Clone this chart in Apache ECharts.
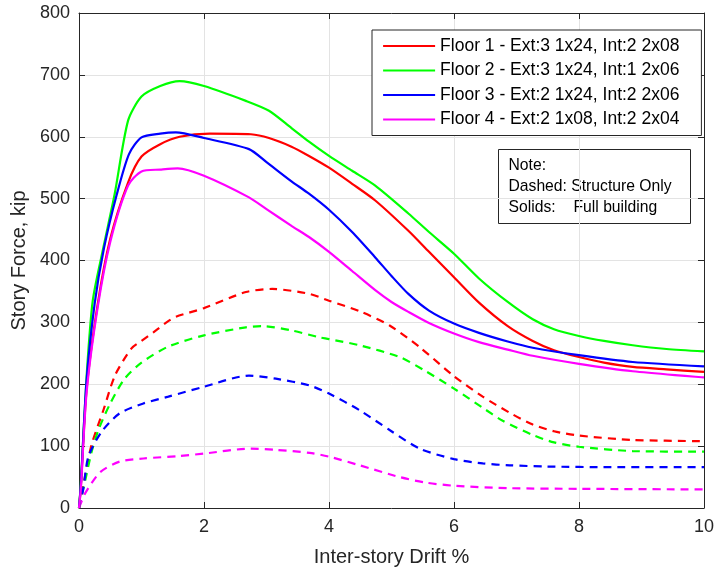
<!DOCTYPE html>
<html>
<head>
<meta charset="utf-8">
<script src="https://cdn.jsdelivr.net/npm/echarts@6/dist/echarts.min.js"></script>
<style>html,body{margin:0;padding:0;background:#fff;}#c{width:717px;height:573px;}</style>
</head>
<body>
<div id="c"></div>
<script>
// ---- Data ----
const seriesNames = [
  'Floor 1 - Ext:3 1x24, Int:2 2x08',
  'Floor 2 - Ext:3 1x24, Int:1 2x06',
  'Floor 3 - Ext:2 1x24, Int:2 2x06',
  'Floor 4 - Ext:2 1x08, Int:2 2x04'
];
const colors = ['#ff0000', '#00ff00', '#0000ff', '#ff00ff'];

// Solid: full building
const f1FullX = [0, 0.03, 0.12, 0.3, 0.5, 0.785, 1.0, 1.3, 1.61, 2.09, 2.75, 3.04, 3.4, 3.68, 4.0, 4.37, 4.74, 5.27, 5.6, 6.0, 6.4, 6.86, 7.26, 7.6, 8.0, 8.4, 8.86, 9.4, 10];
const f1FullY = [0, 35, 190, 330, 435, 526, 568, 588, 600, 605, 604, 598, 584, 569, 550, 524, 497, 448, 414, 373, 332, 294, 270, 255, 244, 235, 228, 224, 220];

const f2FullX = [0, 0.03, 0.12, 0.22, 0.39, 0.57, 0.785, 1.0, 1.3, 1.61, 2.0, 2.67, 3.04, 3.4, 3.68, 4.0, 4.37, 4.74, 5.27, 5.6, 6.0, 6.4, 6.86, 7.26, 7.6, 8.0, 8.4, 8.86, 9.4, 10];
const f2FullY = [0, 40, 210, 335, 421, 507, 626, 665, 682, 690, 682, 658, 642, 614, 592, 569, 545, 521, 476, 446, 411, 371, 333, 305, 289, 278, 270, 263, 257, 253];

const f3FullX = [0, 0.03, 0.12, 0.25, 0.4, 0.6, 0.8, 1.0, 1.3, 1.55, 2.0, 2.72, 3.0, 3.4, 3.68, 4.0, 4.37, 4.74, 5.0, 5.27, 5.6, 6.0, 6.4, 6.86, 7.26, 8.0, 8.86, 10];
const f3FullY = [0, 38, 205, 330, 420, 505, 572, 599, 605, 607, 598, 580, 559, 528, 508, 482, 446, 405, 375, 346, 319, 298, 283, 269, 259, 247, 236, 229];

const f4FullX = [0, 0.03, 0.12, 0.3, 0.5, 0.785, 1.0, 1.3, 1.58, 2.0, 2.72, 3.0, 3.4, 3.68, 4.0, 4.37, 4.74, 5.0, 5.27, 5.6, 6.0, 6.4, 6.86, 7.26, 8.0, 8.86, 10];
const f4FullY = [0, 32, 185, 325, 430, 521, 544, 547, 549, 537, 502, 483, 456, 438, 414, 383, 352, 333, 317, 299, 282, 268, 256, 246, 233, 221, 211];

// Dashed: structure only
const f1StructX = [0, 0.1, 0.2, 0.39, 0.575, 0.84, 1.0, 1.19, 1.4, 1.55, 2.0, 2.67, 3.09, 3.69, 4.0, 4.49, 4.97, 5.45, 6.0, 6.46, 6.89, 7.26, 7.6, 8.0, 8.86, 10];
const f1StructY = [0, 53, 102, 158, 214, 258, 270, 284, 300, 309, 323, 349, 354, 346, 335, 318, 295, 260, 213, 180, 154, 135, 124, 117, 110, 108];

const f2StructX = [0, 0.1, 0.2, 0.31, 0.5, 0.73, 1.0, 1.43, 2.0, 2.67, 2.94, 3.4, 3.84, 4.0, 4.49, 5.13, 5.55, 6.0, 6.46, 6.78, 7.26, 7.6, 8.0, 8.86, 10];
const f2StructY = [0, 45, 90, 126, 169, 209, 235, 261, 279, 292, 294, 287, 276, 273, 263, 244, 221, 193, 162, 141, 118, 106, 99, 92, 91];

const f3StructX = [0, 0.07, 0.15, 0.36, 0.65, 1.03, 1.43, 2.0, 2.72, 3.15, 3.69, 4.0, 4.49, 4.97, 5.45, 6.0, 6.46, 6.89, 7.5, 8.5, 10];
const f3StructY = [0, 32, 83, 123, 153, 169, 180, 196, 214, 209, 198, 185, 158, 126, 96, 79, 72, 69, 67, 66, 66];

const f4StructX = [0, 0.1, 0.34, 0.65, 1.03, 1.61, 2.0, 2.75, 3.15, 3.69, 4.0, 4.49, 5.13, 5.55, 6.0, 6.89, 8.0, 10];
const f4StructY = [0, 24, 58, 75, 80, 84, 88, 96, 94, 89, 83, 69, 50, 41, 36, 32, 31, 30];

const xTicks = [0, 2, 4, 6, 8, 10];
const yTicks = [0, 100, 200, 300, 400, 500, 600, 700, 800];

// ---- Build ----
function zip(xs, ys) { return xs.map((x, i) => [x, ys[i]]); }
const full = [[f1FullX, f1FullY], [f2FullX, f2FullY], [f3FullX, f3FullY], [f4FullX, f4FullY]];
const struct = [[f1StructX, f1StructY], [f2StructX, f2StructY], [f3StructX, f3StructY], [f4StructX, f4StructY]];

const FONT = 'Liberation Sans, Arial, Helvetica, sans-serif';
const series = [];
struct.forEach((d, i) => {
  series.push({
    name: seriesNames[i] + ' (structure)',
    type: 'line', symbol: 'none', smooth: 0.25,
    data: zip(d[0], d[1]),
    lineStyle: { color: colors[i], width: 2.2, type: [8, 6] },
    itemStyle: { color: colors[i] },
    z: 2
  });
});
full.forEach((d, i) => {
  series.push({
    name: seriesNames[i],
    type: 'line', symbol: 'none', smooth: 0.25,
    data: zip(d[0], d[1]),
    lineStyle: { color: colors[i], width: 2.2 },
    itemStyle: { color: colors[i] },
    z: 3
  });
});

const axisColor = '#262626';
const chart = echarts.init(document.getElementById('c'), null, { renderer: 'canvas' });
chart.setOption({
  animation: false,
  backgroundColor: '#ffffff',
  textStyle: { fontFamily: FONT },
  grid: { left: 79, right: 12, top: 13, bottom: 65, containLabel: false },
  legend: {
    data: seriesNames,
    orient: 'vertical',
    left: 372, top: 30,
    padding: [7, 22, 7, 10],
    itemWidth: 52, itemHeight: 14, itemGap: 6.5,
    borderColor: axisColor, borderWidth: 1,
    backgroundColor: '#ffffff',
    itemStyle: { opacity: 0 },
    lineStyle: { width: 2.2 },
    textStyle: { fontSize: 17.5, color: '#000', fontFamily: FONT }
  },
  xAxis: [{
    type: 'value', min: 0, max: 10, interval: 2,
    name: 'Inter-story Drift %', nameLocation: 'middle', nameGap: 39,
    nameTextStyle: { fontSize: 20, color: axisColor, fontFamily: FONT },
    axisLine: { show: true, onZero: false, lineStyle: { color: axisColor, width: 1 } },
    axisTick: { show: true, inside: true, length: 6, lineStyle: { color: axisColor } },
    axisLabel: { fontSize: 18, color: axisColor, margin: 10, fontFamily: FONT },
    splitLine: { show: true, lineStyle: { color: '#e3e3e3', width: 1 } }
  }, {
    type: 'value', min: 0, max: 10, interval: 2, position: 'top',
    axisLine: { show: true, onZero: false, lineStyle: { color: axisColor, width: 1 } },
    axisTick: { show: true, inside: true, length: 6, lineStyle: { color: axisColor } },
    axisLabel: { show: false }, splitLine: { show: false }
  }],
  yAxis: [{
    type: 'value', min: 0, max: 800, interval: 100,
    name: 'Story Force, kip', nameLocation: 'middle', nameGap: 41, nameRotate: 90,
    nameTextStyle: { fontSize: 20, color: axisColor, fontFamily: FONT },
    axisLine: { show: true, onZero: false, lineStyle: { color: axisColor, width: 1 } },
    axisTick: { show: true, inside: true, length: 6, lineStyle: { color: axisColor } },
    axisLabel: { fontSize: 18, color: axisColor, margin: 9, fontFamily: FONT },
    splitLine: { show: true, lineStyle: { color: '#e3e3e3', width: 1 } }
  }, {
    type: 'value', min: 0, max: 800, interval: 100, position: 'right',
    axisLine: { show: true, onZero: false, lineStyle: { color: axisColor, width: 1 } },
    axisTick: { show: true, inside: true, length: 6, lineStyle: { color: axisColor } },
    axisLabel: { show: false }, splitLine: { show: false }
  }],
  graphic: [{
    type: 'group', left: 498, top: 149,
    children: [
      { type: 'rect', shape: { x: 0, y: 0, width: 192, height: 74 }, style: { fill: '#ffffff', stroke: axisColor, lineWidth: 1 } },
      { type: 'text', x: 10, y: 16, style: { text: 'Note:', font: '15.7px ' + FONT, fill: '#000', textVerticalAlign: 'middle' } },
      { type: 'text', x: 10, y: 37, style: { text: 'Dashed: Structure Only', font: '15.7px ' + FONT, fill: '#000', textVerticalAlign: 'middle' } },
      { type: 'text', x: 10, y: 58, style: { text: 'Solids:', font: '15.7px ' + FONT, fill: '#000', textVerticalAlign: 'middle' } },
      { type: 'text', x: 75, y: 58, style: { text: 'Full building', font: '15.7px ' + FONT, fill: '#000', textVerticalAlign: 'middle' } }
    ]
  }],
  series: series
});
</script>
</body>
</html>
